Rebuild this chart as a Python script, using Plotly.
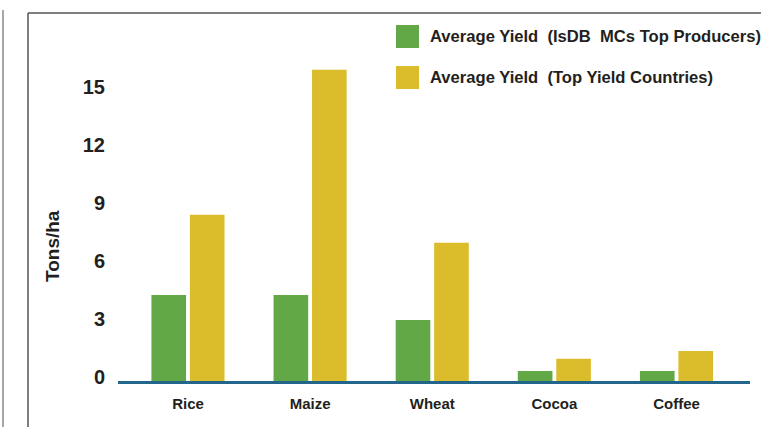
import plotly.graph_objects as go

categories = ["Rice", "Maize", "Wheat", "Cocoa", "Coffee"]
series_names = ["Average Yield  (IsDB  MCs Top Producers)", "Average Yield  (Top Yield Countries)"]
isdb_top_producers = [4.45, 4.45, 3.15, 0.52, 0.52]
top_yield_countries = [8.6, 16.1, 7.15, 1.15, 1.55]
y_tick_vals = [0, 3, 6, 9, 12, 15]
y_tick_text = ["0", "3", "6", "9", "12", "15"]
y_title = "Tons/ha"

colors = ["#62A846", "#DBBD2B"]
W, H = 761, 427
ML, MR, MT, MB = 118, 11, 40, 46
PW, PH = W - ML - MR, H - MT - MB
FONT = "Liberation Sans, Arial, Helvetica, sans-serif"
TXT = "#231f20"


def px(x):
    return (x - ML) / PW


def py(y):
    return (H - MB - y) / PH


fig = go.Figure()
for name, vals, col in zip(series_names, [isdb_top_producers, top_yield_countries], colors):
    fig.add_trace(go.Bar(x=categories, y=vals, name=name, marker=dict(color=col, line=dict(width=0)),
                         showlegend=False))

shapes = [
    dict(type="line", xref="paper", yref="paper", x0=px(3), x1=px(3), y0=py(10), y1=py(430),
         line=dict(color="#8a8a8a", width=1.5)),
    dict(type="line", xref="paper", yref="paper", x0=px(28), x1=px(28), y0=py(13), y1=py(430),
         line=dict(color="#555555", width=1.5)),
    dict(type="line", xref="paper", yref="paper", x0=px(28), x1=px(765), y0=py(13), y1=py(13),
         line=dict(color="#555555", width=1.5)),
]
annotations = []
legend_rows = [(25, 48), (66, 89)]
for (y0, y1), name, col in zip(legend_rows, series_names, colors):
    shapes.append(dict(type="rect", xref="paper", yref="paper", x0=px(396), x1=px(419),
                       y0=py(y1), y1=py(y0), fillcolor=col, line=dict(width=0)))
    annotations.append(dict(xref="paper", yref="paper", x=px(428), y=py((y0 + y1) / 2),
                            xanchor="left", yanchor="middle", showarrow=False, text=name,
                            font=dict(family=FONT, size=16.6, color=TXT, weight="bold")))
annotations.append(dict(xref="paper", yref="paper", x=px(52), y=py(246), textangle=-90,
                        xanchor="center", yanchor="middle", showarrow=False, text=y_title,
                        font=dict(family=FONT, size=19, color=TXT, weight="bold")))

fig.update_layout(
    width=W, height=H, autosize=False,
    margin=dict(l=ML, r=MR, t=MT, b=MB, pad=0),
    paper_bgcolor="white", plot_bgcolor="white",
    barmode="group", bargap=0.37, bargroupgap=0.1,
    shapes=shapes, annotations=annotations,
    font=dict(family=FONT, color=TXT),
)
fig.update_xaxes(
    type="category", range=[-0.573, 4.602], showgrid=False, zeroline=False,
    showline=True, linecolor="#22668c", linewidth=3, ticks="",
    tickfont=dict(family=FONT, size=15, color=TXT, weight="bold"),
    ticklabelstandoff=7,
)
fig.update_yaxes(
    range=[0, PH / 19.33], showgrid=False, zeroline=False, showline=False, ticks="",
    tickvals=y_tick_vals, ticktext=y_tick_text,
    tickfont=dict(family=FONT, size=20, color=TXT, weight="bold"),
    ticklabelstandoff=12, ticklabelshift=-4,
)

fig.write_html("out.html")
